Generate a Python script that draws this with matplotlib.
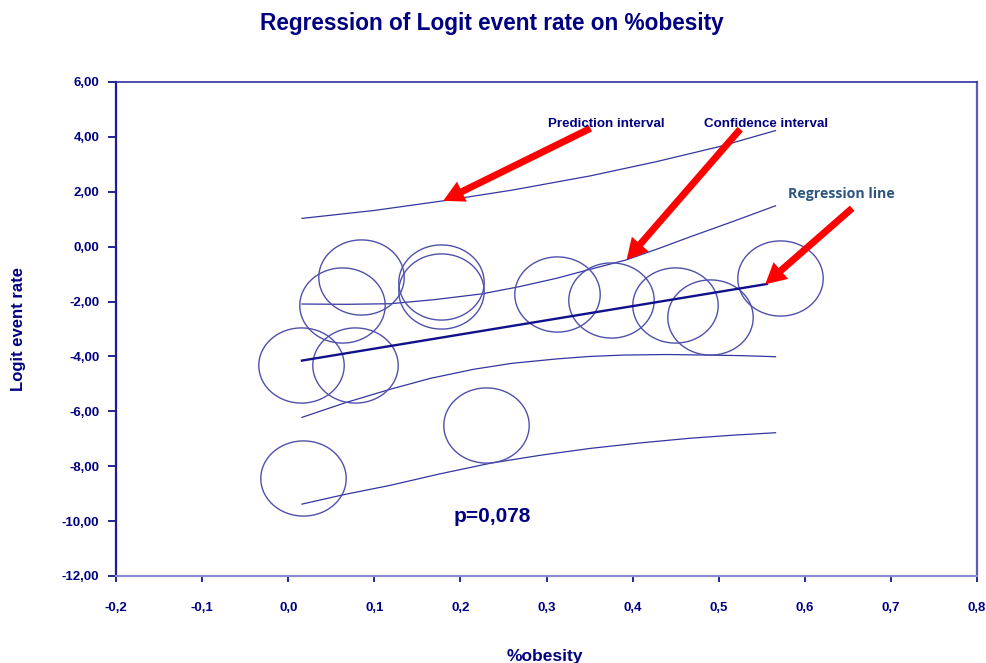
import numpy as np
import matplotlib
matplotlib.use("Agg")
import matplotlib.pyplot as plt
from matplotlib.path import Path
from matplotlib.ticker import FixedLocator, FixedFormatter

plt.rcParams['font.family'] = ['Liberation Sans', 'DejaVu Sans']

# ---- data ----
study_x = [0.015, 0.017, 0.063, 0.084, 0.078, 0.178, 0.178, 0.230, 0.312, 0.375, 0.449, 0.490, 0.571]
study_y = [-4.32, -8.43, -2.11, -1.09, -4.30, -1.30, -1.61, -6.49, -1.73, -1.95, -2.13, -2.55, -1.15]

reg_x = [0.016, 0.556]
reg_y = [-4.15, -1.36]

ci_up_x = [0.016, 0.067, 0.118, 0.170, 0.225, 0.268, 0.312, 0.350, 0.393, 0.430, 0.467, 0.515, 0.566]
ci_up_y = [-2.09, -2.10, -2.08, -1.93, -1.72, -1.46, -1.15, -0.83, -0.48, -0.07, 0.36, 0.90, 1.49]
ci_lo_x = [0.016, 0.067, 0.118, 0.165, 0.215, 0.260, 0.312, 0.350, 0.389, 0.440, 0.486, 0.525, 0.566]
ci_lo_y = [-6.22, -5.68, -5.20, -4.80, -4.47, -4.25, -4.09, -4.00, -3.95, -3.93, -3.95, -3.97, -4.01]

pi_up_x = [0.016, 0.100, 0.180, 0.260, 0.351, 0.428, 0.500, 0.566]
pi_up_y = [1.03, 1.32, 1.67, 2.06, 2.58, 3.10, 3.64, 4.23]
pi_lo_x = [0.016, 0.067, 0.118, 0.176, 0.235, 0.293, 0.351, 0.409, 0.467, 0.516, 0.566]
pi_lo_y = [-9.38, -9.02, -8.70, -8.28, -7.89, -7.60, -7.35, -7.15, -6.98, -6.87, -6.78]

x_ticks = [-0.2, -0.1, 0.0, 0.1, 0.2, 0.3, 0.4, 0.5, 0.6, 0.7, 0.8]
x_tick_labels = ['-0,2', '-0,1', '0,0', '0,1', '0,2', '0,3', '0,4', '0,5', '0,6', '0,7', '0,8']
y_ticks = [-12, -10, -8, -6, -4, -2, 0, 2, 4, 6]
y_tick_labels = ['-12,00', '-10,00', '-8,00', '-6,00', '-4,00', '-2,00', '0,00', '2,00', '4,00', '6,00']

# annotation arrows: (tail_x, tail_y, tip_x, tip_y)
arrow_pred = (0.351, 4.31, 0.180, 1.67)
arrow_conf = (0.525, 4.28, 0.393, -0.48)
arrow_reg = (0.655, 1.40, 0.554, -1.37)

NAVY = '#000080'
LINE = '#3535a0'

fig = plt.figure(figsize=(9.86, 6.63), dpi=100)
ax = fig.add_axes([116/986, 87/663, 861/986, 494/663])
ax.set_xlim(-0.2, 0.8)
ax.set_ylim(-12, 6)

# elliptical bubble marker (slightly wider than tall)
t = np.linspace(0, 2*np.pi, 100)
ell = Path(np.column_stack([np.cos(t), 0.88*np.sin(t)]), closed=True)
ax.plot(study_x, study_y, linestyle='none', marker=ell, markersize=61.5,
        markerfacecolor='none', markeredgecolor='#5050ac', markeredgewidth=1.0,
        clip_on=False, zorder=3)

for xs, ys in ((pi_up_x, pi_up_y), (pi_lo_x, pi_lo_y), (ci_up_x, ci_up_y), (ci_lo_x, ci_lo_y)):
    ax.plot(xs, ys, color=LINE, lw=0.9, zorder=2, solid_joinstyle='round')
ax.plot(reg_x, reg_y, color='#10108a', lw=1.7, zorder=4)

for (tx, ty, hx, hy) in (arrow_pred, arrow_conf, arrow_reg):
    ax.annotate('', xy=(hx, hy), xytext=(tx, ty),
                arrowprops=dict(arrowstyle='simple,head_length=1.5,head_width=1.6,tail_width=0.5',
                                mutation_scale=10, fc='#ff0000', ec='#ff0000', lw=0,
                                shrinkA=0, shrinkB=0), zorder=5)

ax.text(0.369, 4.47, 'Prediction interval', ha='center', va='center',
        fontsize=9.6, fontweight='bold', color=NAVY, zorder=6)
ax.text(0.555, 4.47, 'Confidence interval', ha='center', va='center',
        fontsize=9.6, fontweight='bold', color=NAVY, zorder=6)
ax.text(0.642, 1.92, 'Regression line', ha='center', va='center',
        fontsize=10.2, fontweight='bold', color='#2e557f', family=['Open Sans', 'DejaVu Sans'], zorder=6)
ax.text(0.237, -9.85, 'p=0,078', ha='center', va='center',
        fontsize=15, fontweight='bold', color=NAVY, zorder=6)

ax.xaxis.set_major_locator(FixedLocator(x_ticks))
ax.xaxis.set_major_formatter(FixedFormatter(x_tick_labels))
ax.yaxis.set_major_locator(FixedLocator(y_ticks))
ax.yaxis.set_major_formatter(FixedFormatter(y_tick_labels))
ax.tick_params(axis='y', direction='out', length=6, width=1.2, color=NAVY, pad=6,
               labelsize=9.5, labelcolor=NAVY)
ax.tick_params(axis='x', direction='out', length=4.5, width=1.2, color=NAVY, pad=14,
               labelsize=9.5, labelcolor=NAVY)
for lab in ax.get_xticklabels() + ax.get_yticklabels():
    lab.set_fontweight('bold')

ax.spines['left'].set_color('#1c1c96')
ax.spines['left'].set_linewidth(1.6)
ax.spines['top'].set_color('#3030a4')
ax.spines['top'].set_linewidth(1.2)
ax.spines['right'].set_color('#5c5cb8')
ax.spines['right'].set_linewidth(1.6)
ax.spines['bottom'].set_color('#8a8ad0')
ax.spines['bottom'].set_linewidth(1.6)

ax.set_ylabel('Logit event rate', fontsize=12, fontweight='bold', color=NAVY)
ax.yaxis.set_label_coords(-0.104, 0.5)
ax.set_xlabel('%obesity', fontsize=12.5, fontweight='bold', color=NAVY)
ax.xaxis.set_label_coords(0.498, -0.162)
ax.xaxis.label.set_va('center')

fig.text(0.499, 0.965, 'Regression of Logit event rate on %obesity', ha='center', va='center',
         fontsize=16.3, fontweight='bold', color=NAVY)

fig.savefig('out.png', dpi=100)
